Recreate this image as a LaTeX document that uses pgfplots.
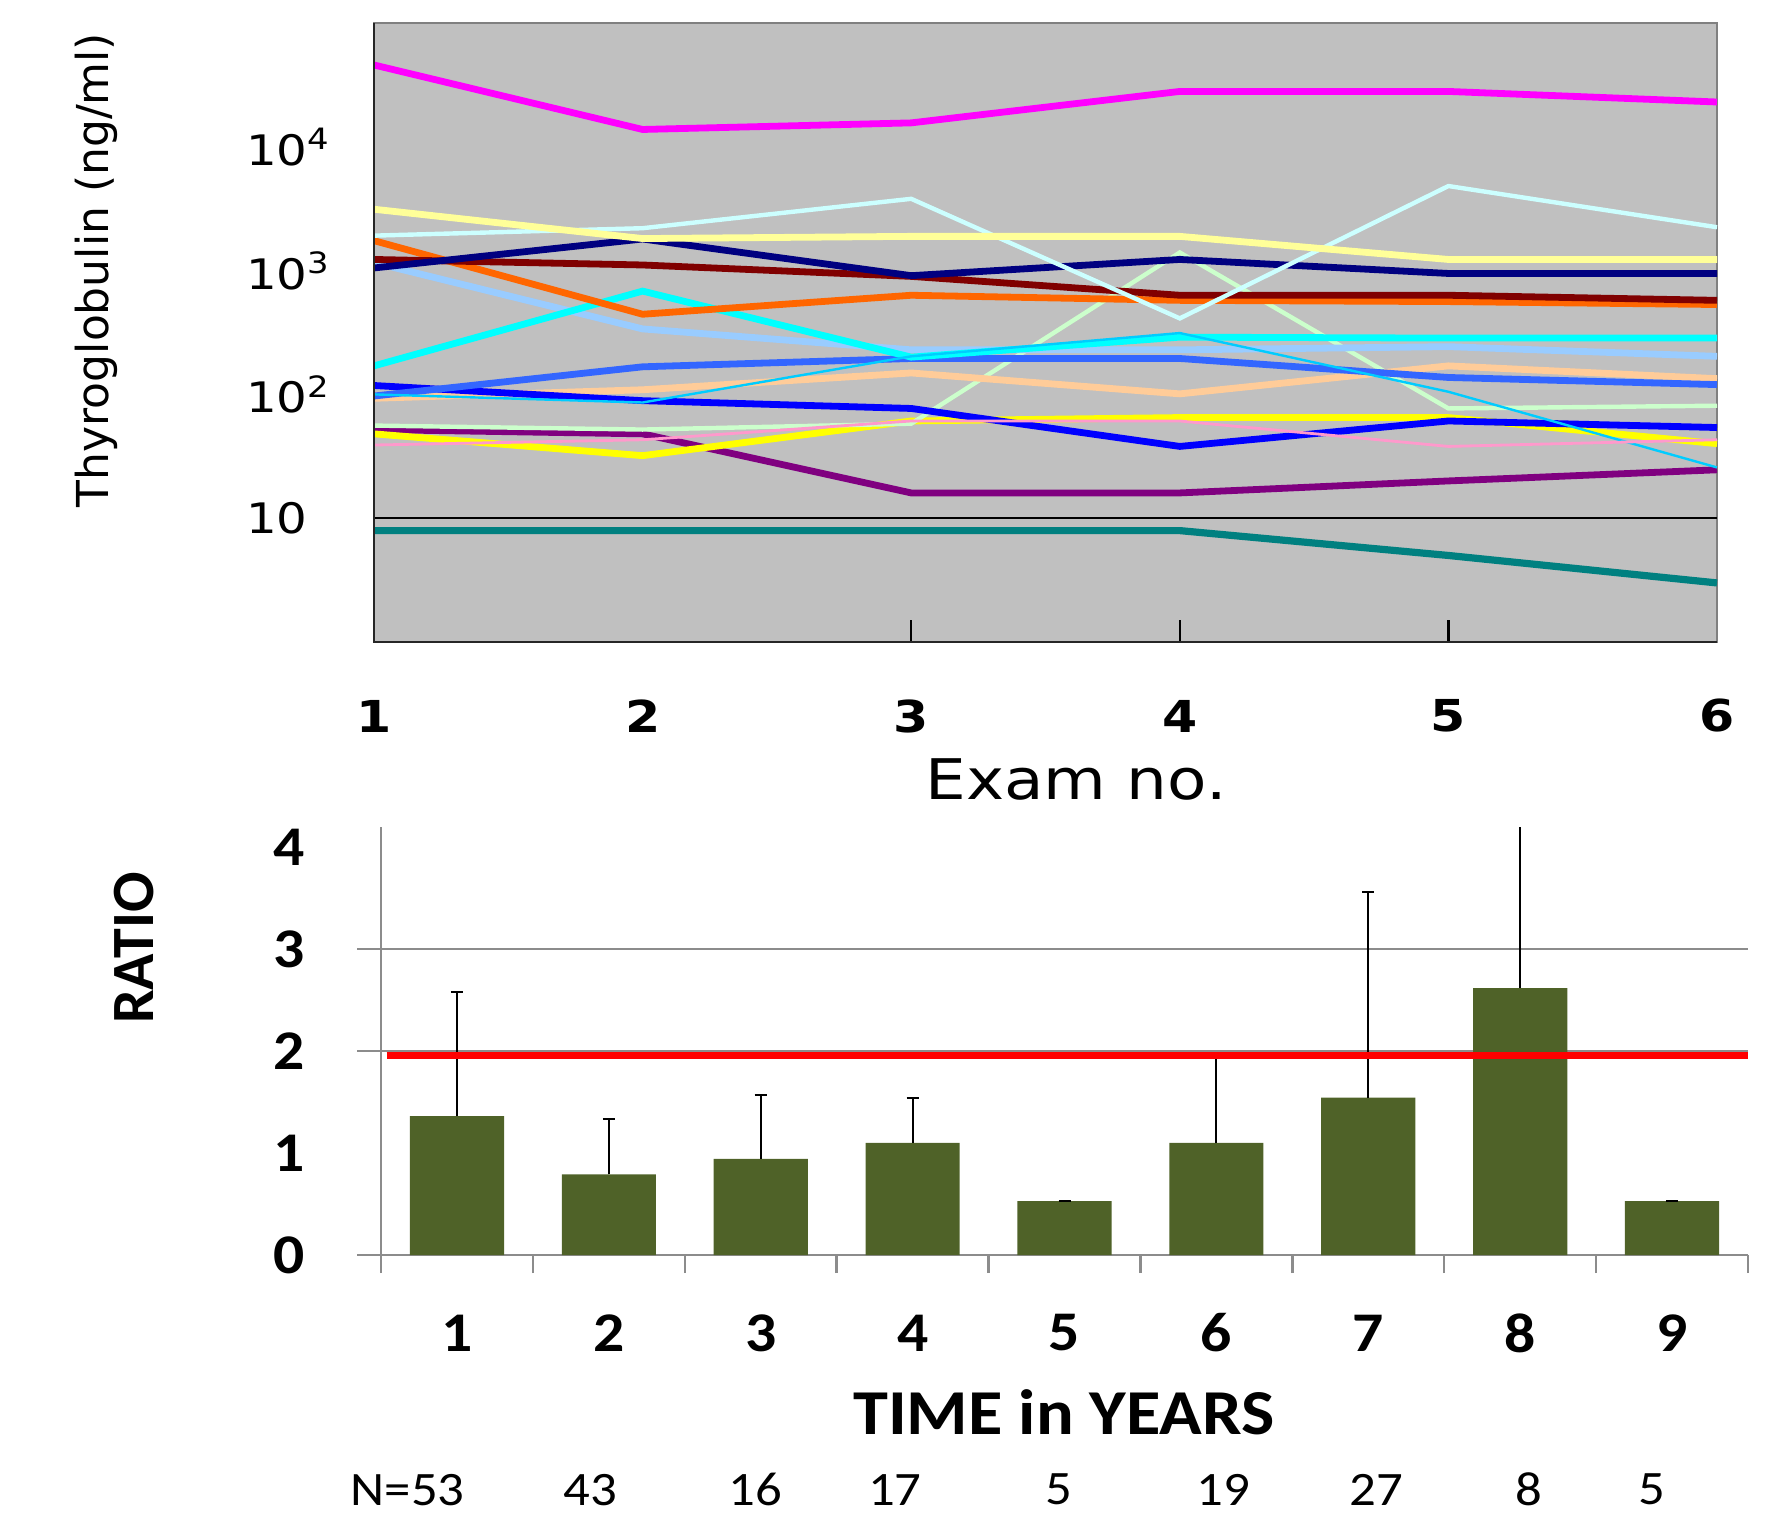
\documentclass[border=0pt]{standalone}
\usepackage{fontspec}
\setmainfont{Carlito}
\newfontfamily\dv{DejaVu Sans}[FakeStretch=1.15]
\newfontfamily\dvn{DejaVu Sans}
\newfontfamily\cb{Carlito}[FakeStretch=1.1]
\usepackage{pgfplots}
\pgfplotsset{compat=1.18}
\definecolor{bgc}{HTML}{C0C0C0}
\definecolor{axgray}{HTML}{8C8C8C}
\definecolor{olivebar}{HTML}{4F6228}
\definecolor{cMag}{HTML}{FF00FF}
\definecolor{cLYel}{HTML}{FFFF99}
\definecolor{cPCyan}{HTML}{CCFFFF}
\definecolor{cNavy}{HTML}{000080}
\definecolor{cMaroon}{HTML}{800000}
\definecolor{cOrange}{HTML}{FF6600}
\definecolor{cLBlue}{HTML}{99CCFF}
\definecolor{cCyan}{HTML}{00FFFF}
\definecolor{cSky}{HTML}{00CCFF}
\definecolor{cRoyal}{HTML}{3366FF}
\definecolor{cBlue}{HTML}{0000FF}
\definecolor{cPeach}{HTML}{FFCC99}
\definecolor{cLGreen}{HTML}{CCFFCC}
\definecolor{cPurple}{HTML}{800080}
\definecolor{cYellow}{HTML}{FFFF00}
\definecolor{cPink}{HTML}{FF99CC}
\definecolor{cTeal}{HTML}{008080}
\pgfplotstableread{
x y e
1 1.364 1.22
2 0.792 0.541
3 0.944 0.623
4 1.100 0.437
5 0.528 0
6 1.100 0.84
7 1.545 2.013
8 2.619 2.0
9 0.528 0
}\ratiodata
\begin{document}
\begin{tikzpicture}
\useasboundingbox (0,0) rectangle (444pt,378pt);
% ---------- top chart ----------
\begin{axis}[
  at={(93.5pt,217.5pt)}, anchor=south west,
  scale only axis, width=335.75pt, height=154.75pt,
  xmin=1, xmax=6, ymode=log, ymin=1, ymax=1e5,
  clip=false,
  axis background/.style={fill=bgc},
  axis line style={draw=gray, line width=0.4pt},
  xtick={1,2,3,4,5,6},
  xticklabels={1,2,3,4,5,6},
  major tick length=0pt,
  xtick pos=left, ytick pos=left,
  xticklabel style={anchor=center, yshift=-18.5pt, font=\dv\fontsize{11}{13}\selectfont\bfseries},
  extra x ticks={3,4,5}, extra x tick labels={},
  extra x tick style={major tick length=5.4pt, tick align=inside, tick style={black, line width=0.6pt}},
  ytick={10,100,1000,10000},
  yticklabels={10,10\textsuperscript{2},10\textsuperscript{3},10\textsuperscript{4}},
  yminorticks=false,
  yticklabel style={anchor=west, xshift=-35.5pt, font=\dv\fontsize{10.5}{12}\selectfont},
]
\addplot[black, line width=0.5pt] coordinates {(1,10) (6,10)};
\addplot[cTeal, line width=1.8pt] coordinates {(1,7.94) (2,7.94) (3,7.94) (4,7.94) (5,5.0) (6,3.0)};
\addplot[cPurple, line width=1.7pt] coordinates {(1,52) (2,48) (3,16) (4,16) (5,20) (6,24.6)};
\addplot[cYellow, line width=1.7pt] coordinates {(1,48) (2,32) (3,61) (4,65) (5,65) (6,40)};
\addplot[cLGreen, line width=1.1pt] coordinates {(1,56) (2,52) (3,58) (4,1400) (5,77) (6,81)};
\addplot[cPeach, line width=1.7pt] coordinates {(1,93) (2,109) (3,149) (4,101) (5,170) (6,134)};
\addplot[cBlue, line width=1.7pt] coordinates {(1,118) (2,89) (3,77) (4,38) (5,61) (6,54)};
\addplot[cRoyal, line width=1.7pt] coordinates {(1,97) (2,167) (3,195) (4,195) (5,137) (6,120)};
\addplot[cLBlue, line width=1.7pt] coordinates {(1,1160) (2,338) (3,229) (4,229) (5,243) (6,203)};
\addplot[cCyan, line width=1.7pt] coordinates {(1,170) (2,683) (3,200) (4,290) (5,285) (6,285)};
\addplot[cSky, line width=0.6pt] coordinates {(1,100) (2,86) (3,203) (4,313) (5,105) (6,25.7)};
\addplot[cPink, line width=0.7pt] coordinates {(1,39) (2,43) (3,61) (4,61) (5,38) (6,43)};
\addplot[cOrange, line width=1.7pt] coordinates {(1,1745) (2,444) (3,632) (4,575) (5,562) (6,532)};
\addplot[cMaroon, line width=1.7pt] coordinates {(1,1230) (2,1110) (3,898) (4,632) (5,632) (6,575)};
\addplot[cNavy, line width=1.7pt] coordinates {(1,1050) (2,1800) (3,910) (4,1230) (5,948) (6,948)};
\addplot[cPCyan, line width=1.1pt] coordinates {(1,1916) (2,2200) (3,3800) (4,411) (5,4820) (6,2240)};
\addplot[cLYel, line width=1.7pt] coordinates {(1,3130) (2,1815) (3,1890) (4,1890) (5,1230) (6,1230)};
\addplot[cMag, line width=1.7pt] coordinates {(1,45800) (2,13800) (3,15600) (4,28000) (5,28000) (6,23000)};
\draw[black!85, line width=0.7pt] (rel axis cs:0,1) -- (rel axis cs:0,0) -- (rel axis cs:1,0);
\end{axis}
\node[rotate=90, font=\dvn\fontsize{11}{13}\selectfont] at (24pt,310.5pt) {Thyroglobulin (ng/ml)};
\node[font=\dv\fontsize{14}{16}\selectfont] at (269pt,183.25pt) {Exam no.};
% ---------- bottom chart ----------
\begin{axis}[
  at={(95.25pt,64.25pt)}, anchor=south west,
  scale only axis, width=341.75pt, height=107pt,
  xmin=0.5, xmax=9.5, ymin=0, ymax=4.2,
  axis x line=bottom, axis y line=left,
  axis line style={-, draw=axgray, line width=0.6pt},
  xtick={1,2,3,4,5,6,7,8,9},
  xticklabels={1,2,3,4,5,6,7,8,9},
  major tick length=0pt,
  xticklabel style={anchor=center, yshift=-19.5pt, font=\cb\fontsize{14}{16}\selectfont\bfseries},
  extra x ticks={0.5,1.5,2.5,3.5,4.5,5.5,6.5,7.5,8.5,9.5}, extra x tick labels={},
  extra x tick style={major tick length=4.5pt, tick align=outside, tick style={axgray, line width=0.6pt}},
  ytick={0,1,2,3,4},
  yticklabels={0,1,2,3,4},
  yticklabel style={anchor=center, xshift=-23pt, font=\cb\fontsize{14}{16}\selectfont\bfseries},
  extra y ticks={0,2,3}, extra y tick labels={},
  extra y tick style={grid=major, major grid style={axgray, line width=0.6pt}, major tick length=6pt, tick align=outside, tick style={axgray, line width=0.6pt}},
]
\addplot[ybar, bar width=0.62, fill=olivebar, draw=none,
  error bars/.cd, y dir=plus, y explicit,
  error bar style={black, line width=0.5pt},
  error mark options={black, rotate=90, mark size=1.5pt, line width=0.5pt}]
  table[x=x, y=y, y error=e] {\ratiodata};
\addplot[red, line width=1.6pt] coordinates {(0.537,1.957) (9.5,1.957)};
\end{axis}
\node[rotate=90, font=\bfseries\fontsize{15}{17}\selectfont] at (33.5pt,141pt) {RATIO};
\node[font=\cb\bfseries\fontsize{16}{18}\selectfont] at (266pt,25pt) {TIME in YEARS};
\begin{scope}[every node/.style={font=\cb\fontsize{12}{14}\selectfont}]
\node at (101.9pt,5.6pt) {N=53};
\node at (147.5pt,5.6pt) {43};
\node at (188.9pt,5.6pt) {16};
\node at (223.7pt,5.6pt) {17};
\node at (264.8pt,5.6pt) {5};
\node at (305.8pt,5.6pt) {19};
\node at (344.1pt,5.6pt) {27};
\node at (382.3pt,5.6pt) {8};
\node at (412.9pt,5.6pt) {5};
\end{scope}
\end{tikzpicture}
\end{document}
